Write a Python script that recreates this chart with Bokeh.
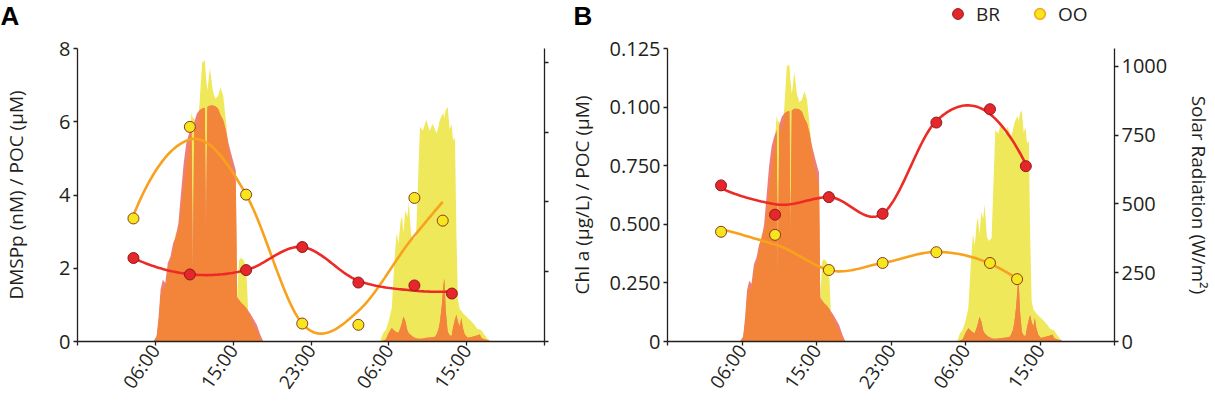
import numpy as np
from bokeh.plotting import figure
from bokeh.models import (Range1d, LinearAxis, FixedTicker, Legend,
                          LegendItem, ColumnDataSource)
from bokeh.layouts import row, column
from bokeh.core.properties import value
from bokeh.embed import file_html
from bokeh.resources import INLINE

# ---------------- data ----------------
# sampling times, hours after the first "06:00" tick
t_BR = [-2.25, 3.55, 9.33, 15.1, 20.87, 26.63, 30.48]
t_OO = [-2.25, 3.55, 9.33, 15.1, 20.87, 26.63, 29.54]

dmsp_BR = [2.28, 1.83, 1.95, 2.58, 1.61, 1.53, 1.31]
dmsp_OO = [3.36, 5.86, 4.01, 0.49, 0.455, 3.92, 3.30]

chl_BR = [0.0666, 0.0541, 0.0616, 0.0545, 0.0934, 0.0991, 0.0748]
chl_OO = [0.0468, 0.0455, 0.0305, 0.0335, 0.0381, 0.0335, 0.0266]

x_ticks = [-8, 0, 8, 16, 24, 32, 40]
x_tick_labels = ["", "06:00", "15:00", "23:00", "06:00", "15:00", ""]
a_ticks = [0, 2, 4, 6, 8]
b_ticks = [0, 0.025, 0.05, 0.075, 0.1, 0.125]
b_tick_labels = ["0", "0.250", "0.500", "0.750", "0.100", "0.125"]
rad_ticks = [0, 250, 500, 750, 1000]
panel_letters = ["A", "B"]
series_names = ["BR", "OO"]

# solar radiation (W/m2) at both sites
rad_hours = [-0.2, 0.13, 0.34, 0.54, 0.77, 1.02, 1.28, 1.56, 1.83, 2.1,
             2.37, 2.64, 2.91, 3.18, 3.46, 3.72, 3.85, 4.0, 4.27, 4.54,
             4.81, 5.09, 5.2, 5.35, 5.62, 5.9, 6.16, 6.44, 6.71, 6.98,
             7.25, 7.53, 7.79, 8.07, 8.27, 8.4, 8.6, 8.8, 9.1, 9.35,
             9.55, 9.76, 10.1, 10.43, 10.78, 11.1,
             23.1, 23.4, 23.7, 24.0, 24.3, 24.6, 24.8, 25.0, 25.2, 25.35,
             25.5, 25.7, 25.9, 26.05, 26.3, 26.5, 26.8, 27.05, 27.2, 27.5,
             27.85, 28.2, 28.5, 28.75, 28.9, 29.1, 29.25, 29.45, 29.6, 29.7,
             29.85, 30.05, 30.25, 30.45, 30.6, 30.8, 30.95, 31.1, 31.3, 31.45,
             31.6, 31.8, 32.1, 32.4, 32.8, 33.1, 33.35, 33.5, 33.8, 34.1, 34.5]
rad_BR = [0, 19, 90, 186, 221, 210, 281, 305, 352, 376,
          424, 531, 638, 710, 745, 769, 240, 787, 817, 829,
          835, 838, 380, 840, 846, 846, 843, 835, 811, 793,
          757, 710, 674, 638, 614, 160, 150, 140, 130, 120,
          110, 100, 80, 60, 25, 0,
          0, 3, 8, 31, 48, 38, 33, 31, 50, 67,
          90, 73, 40, 30, 22, 16, 12, 10, 10, 11,
          13, 14, 15, 17, 25, 43, 70, 130, 200, 227,
          110, 35, 22, 20, 50, 80, 96, 70, 55, 85,
          50, 25, 13, 15, 19, 22, 25, 13, 8, 5, 0]
rad_OO = [0, 15, 70, 160, 200, 190, 260, 290, 330, 390,
          400, 470, 560, 640, 700, 820, 800, 800, 760, 850,
          1000, 1007, 950, 900, 980, 900, 870, 880, 910, 880,
          790, 690, 630, 590, 560, 150, 290, 300, 290, 260,
          100, 90, 60, 40, 10, 0,
          0, 30, 42, 75, 120, 300, 390, 350, 430, 450,
          390, 470, 445, 500, 380, 365, 375, 620, 770, 755,
          795, 755, 780, 760, 745, 770, 795, 810, 820, 800,
          830, 840, 760, 780, 720, 730, 380, 150, 115, 110,
          102, 95, 85, 75, 60, 45, 43, 40, 25, 12, 0]

# ---------------- styling ----------------
FONT = "Open Sans"
TXT = "#231F20"
C_YEL_AREA = "#EFE85A"
C_PINK_AREA = "#EE7E7E"
C_ORG_AREA = "#F3853A"
C_RED_LINE = "#EC2A26"
C_ORG_LINE = "#F8A11C"
C_RED_PT = "#E5262B"
C_RED_EDGE = "#8E1B1E"
C_YEL_PT = "#F5E61E"
C_YEL_EDGE = "#8A3A1C"

HDR_H = 32
PLOT_H = 404 - HDR_H


def _local(x, y, x0, q):
    d = np.abs(x - x0)
    h = np.sort(d)[q - 1]
    u = np.clip(d / h, 0, 1)
    w = (1 - u ** 3) ** 3
    X = np.vstack([np.ones(len(x)), x - x0, (x - x0) ** 2]).T
    A = X.T @ (w[:, None] * X)
    b = np.linalg.lstsq(A, X.T @ (w * y), rcond=None)[0]
    return b[0], b[1]


def loess(x, y, span=0.75, n_out=160):
    """local quadratic loess fitted at the sample times,
    joined by cubic Hermite pieces"""
    x = np.asarray(x, float)
    y = np.asarray(y, float)
    q = int(np.floor(len(x) * span))
    verts = np.sort(x)
    fv = np.array([_local(x, y, v, q) for v in verts])
    xs = np.linspace(x.min(), x.max(), n_out)
    ys = []
    for t in xs:
        i = int(np.clip(np.searchsorted(verts, t) - 1, 0, len(verts) - 2))
        x0, x1 = verts[i], verts[i + 1]
        hh = x1 - x0
        s = (t - x0) / hh
        h00 = 2 * s ** 3 - 3 * s ** 2 + 1
        h10 = s ** 3 - 2 * s ** 2 + s
        h01 = -2 * s ** 3 + 3 * s ** 2
        h11 = s ** 3 - s ** 2
        ys.append(h00 * fv[i, 0] + h10 * hh * fv[i, 1] +
                  h01 * fv[i + 1, 0] + h11 * hh * fv[i + 1, 1])
    return xs, np.array(ys)


rad_src = ColumnDataSource(dict(
    x=rad_hours, br=rad_BR, oo=rad_OO,
    both=np.minimum(np.array(rad_BR), np.array(rad_OO)).tolist()))


def style_axis(ax, size="20px"):
    ax.axis_line_color = TXT
    ax.axis_line_width = 1.3
    ax.major_tick_line_color = TXT
    ax.major_tick_line_width = 1.3
    ax.major_tick_out = 4
    ax.major_tick_in = 0
    ax.minor_tick_line_color = None
    ax.major_label_text_font = FONT
    ax.major_label_text_font_size = size
    ax.major_label_text_color = TXT
    ax.axis_label_text_font = FONT
    ax.axis_label_text_font_size = "19px"
    ax.axis_label_text_font_style = "normal"
    ax.axis_label_text_color = TXT


def make_panel(w, bl, br, bt, bb, yr, rad_max, BR, OO, yticks, ylabels,
               ylab, lab_standoff, right_label):
    p = figure(width=w, height=PLOT_H, min_border_left=bl,
               min_border_right=br, min_border_top=bt, min_border_bottom=bb,
               x_range=Range1d(-8, 40), y_range=Range1d(*yr),
               output_backend="svg", toolbar_location=None)
    p.extra_y_ranges = {"rad": Range1d(0, rad_max)}
    p.grid.visible = False
    p.outline_line_color = None
    p.background_fill_color = "white"
    p.border_fill_color = "white"

    p.varea(x="x", y1=0, y2="oo", source=rad_src, y_range_name="rad",
            fill_color=C_YEL_AREA)
    p.varea(x="x", y1=0, y2="br", source=rad_src, y_range_name="rad",
            fill_color=C_PINK_AREA)
    p.varea(x="x", y1=0, y2="both", source=rad_src, y_range_name="rad",
            fill_color=C_ORG_AREA)

    xs, ys = loess(t_OO, OO)
    p.line(xs, ys, line_color=C_ORG_LINE, line_width=2.6)
    xs, ys = loess(t_BR, BR)
    p.line(xs, ys, line_color=C_RED_LINE, line_width=2.6)

    p.scatter(t_OO, OO, size=11, fill_color=C_YEL_PT, line_color=C_YEL_EDGE,
              line_width=1)
    p.scatter(t_BR, BR, size=11, fill_color=C_RED_PT, line_color=C_RED_EDGE,
              line_width=1)

    xa = p.xaxis[0]
    style_axis(xa, "19px")
    xa.ticker = FixedTicker(ticks=x_ticks)
    xa.major_label_overrides = {t: l for t, l in zip(x_ticks, x_tick_labels)}
    xa.major_label_orientation = float(np.deg2rad(55))
    xa.major_label_standoff = 1

    ya = p.yaxis[0]
    style_axis(ya)
    ya.ticker = FixedTicker(ticks=yticks)
    if ylabels is not None:
        ya.major_label_overrides = {t: l for t, l in zip(yticks, ylabels)}
    ya.major_label_standoff = 3
    ya.axis_label = ylab
    ya.axis_label_standoff = lab_standoff

    ra = LinearAxis(y_range_name="rad", ticker=FixedTicker(ticks=rad_ticks))
    style_axis(ra)
    ra.major_label_standoff = 3
    if right_label:
        ra.axis_label = "Solar Radiation (W/m²)"
        ra.axis_label_standoff = 16
    else:
        ra.major_label_overrides = {t: "" for t in rad_ticks}
    p.add_layout(ra, "right")
    return p


pA = make_panel(565, 72, 21, 48 - HDR_H, 62, (0, 8), 1050, dmsp_BR, dmsp_OO,
                a_ticks, None, "DMSPp (nM) / POC (µM)", 27, False)
pB = make_panel(650, 98, 97, 45 - HDR_H, 59, (0, 0.125), 1065, chl_BR,
                chl_OO, b_ticks, b_tick_labels, "Chl a (µg/L) / POC (µM)",
                12, True)

# header strip: panel letters and legend
hdr = figure(width=1215, height=HDR_H, x_range=Range1d(0, 1215),
             y_range=Range1d(0, HDR_H), min_border=0, output_backend="svg",
             toolbar_location=None, x_axis_location=None,
             y_axis_location=None)
hdr.grid.visible = False
hdr.outline_line_color = None
hdr.text(x=[0, 573], y=[17, 17], text=panel_letters,
         text_font=value("Liberation Sans"), text_font_size="26px",
         text_font_style="bold", text_color="black",
         text_baseline="middle", text_align="left")

leg_src = ColumnDataSource(dict(x=[np.nan], y=[np.nan]))
r_br = hdr.scatter("x", "y", source=leg_src, size=11, fill_color=C_RED_PT,
                   line_color=C_RED_EDGE, line_width=1)
r_oo = hdr.scatter("x", "y", source=leg_src, size=11, fill_color=C_YEL_PT,
                   line_color=C_ORG_LINE, line_width=1.5)
legend = Legend(items=[LegendItem(label=series_names[0], renderers=[r_br]),
                       LegendItem(label=series_names[1], renderers=[r_oo])],
                orientation="horizontal", location=(944, 5),
                glyph_width=27, glyph_height=27, label_standoff=5,
                spacing=26, padding=0, margin=0, border_line_color=None,
                background_fill_alpha=0, label_text_font=FONT,
                label_text_font_size="19px", label_text_color=TXT)
hdr.add_layout(legend, "center")

layout = column(hdr, row(pA, pB))
open("out.html", "w").write(file_html(layout, INLINE))
